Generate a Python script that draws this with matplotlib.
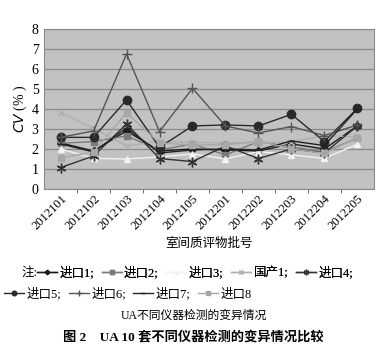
import matplotlib
matplotlib.use("Agg")
import matplotlib.pyplot as plt

plt.rcParams['font.family'] = ['Liberation Serif', 'Noto Sans CJK SC', 'DejaVu Sans']

batches = ["2012101", "2012102", "2012103", "2012104", "2012105",
           "2012201", "2012202", "2012203", "2012204", "2012205"]

jk1 = [2.30, 1.90, 2.90, 1.90, 2.00, 1.95, 1.90, 2.25, 2.00, 3.15]
jk2 = [2.28, 2.37, 2.65, 1.95, 2.25, 1.70, 2.37, 2.10, 1.85, 2.55]
jk3 = [2.00, 1.53, 1.50, 1.60, 1.75, 1.50, 1.87, 1.70, 1.53, 2.23]
gc1 = [3.82, 3.03, 2.15, 2.40, 2.32, 2.30, 2.30, 2.35, 2.67, 2.60]
jk4 = [1.07, 1.65, 3.25, 1.52, 1.37, 2.15, 1.52, 2.00, 1.80, 3.15]
jk5 = [2.58, 2.58, 4.45, 2.08, 3.15, 3.20, 3.15, 3.73, 2.37, 4.03]
jk6 = [2.58, 2.90, 6.75, 2.87, 5.03, 3.15, 2.80, 3.12, 2.67, 3.20]
jk7 = [2.25, 1.85, 3.05, 1.80, 1.95, 2.00, 1.95, 2.40, 2.17, 4.00]
jk8 = [1.55, 1.85, 3.80, 2.30, 2.20, 2.20, 2.40, 2.00, 1.78, 2.57]

series = [
    ("进口1;", jk1, "#1a1a1a", "D", 4),
    ("进口2;", jk2, "#7a7a7a", "s", 5),
    ("进口3;", jk3, "#f2f2f2", "^", 5),
    ("国产1;", gc1, "#b0b0b0", "x", 5),
    ("进口4;", jk4, "#333333", (6, 2, 0), 7),
    ("进口5;", jk5, "#2a2a2a", "o", 6),
    ("进口6;", jk6, "#555555", "+", 7),
    ("进口7;", jk7, "#222222", "_", 6),
    ("进口8", jk8, "#a8a8a8", "s", 5),
]

fig = plt.figure(figsize=(3.87, 3.61), dpi=100)
ax = fig.add_axes([0.114, 0.4765, 0.852, 0.4435])
ax.set_facecolor("#c2c2c2")

x = list(range(len(batches)))
handles = []
for label, vals, color, marker, ms in series:
    h, = ax.plot(x, vals, color=color, marker=marker, markersize=ms,
                 linewidth=1.0, markeredgecolor=color, label=label)
    handles.append(h)

ax.set_xlim(-0.5, len(batches) - 0.5)
ax.set_ylim(0, 8)
ax.set_yticks(range(0, 9))
ax.yaxis.grid(True, color="#8a8a8a", linewidth=0.9)
ax.set_axisbelow(True)
ax.set_xticks(x)
ax.set_xticklabels(batches, rotation=45, ha="right", rotation_mode="anchor", fontsize=9)
ax.set_xticks([i + 0.5 for i in x[:-1]], minor=True)
ax.tick_params(axis="x", which="major", length=0, pad=3)
ax.tick_params(axis="x", which="minor", length=3, color="#555555")
ax.tick_params(axis="y", length=0, labelsize=10, pad=4)
for s in ax.spines.values():
    s.set_color("#8a8a8a")
ax.set_ylabel("$CV$ (% )", fontsize=10, labelpad=2)
ax.set_xlabel("室间质评物批号", fontsize=9, labelpad=4)

fig.text(0.055, 0.245, "注:", fontsize=9, va="center")
leg1 = fig.legend(handles=handles[:5], labels=[s[0] for s in series[:5]],
                  loc="center left", bbox_to_anchor=(0.095, 0.245), ncol=5,
                  frameon=False, fontsize=9, handlelength=1.6, handletextpad=0.2,
                  columnspacing=0.6, borderpad=0, borderaxespad=0, markerscale=0.55)
fig.add_artist(leg1)
fig.legend(handles=handles[5:], labels=[s[0] for s in series[5:]],
           loc="center left", bbox_to_anchor=(0.01, 0.185), ncol=4,
           frameon=False, fontsize=9, handlelength=1.6, handletextpad=0.2,
           columnspacing=0.6, borderpad=0, borderaxespad=0, markerscale=0.55)

fig.text(0.5, 0.125, "UA不同仪器检测的变异情况", fontsize=8.5, ha="center", va="center")
fig.text(0.5, 0.067, "图 2    UA 10 套不同仪器检测的变异情况比较", fontsize=9.5,
         ha="center", va="center", fontweight="bold")

fig.savefig("out.png", dpi=100)
